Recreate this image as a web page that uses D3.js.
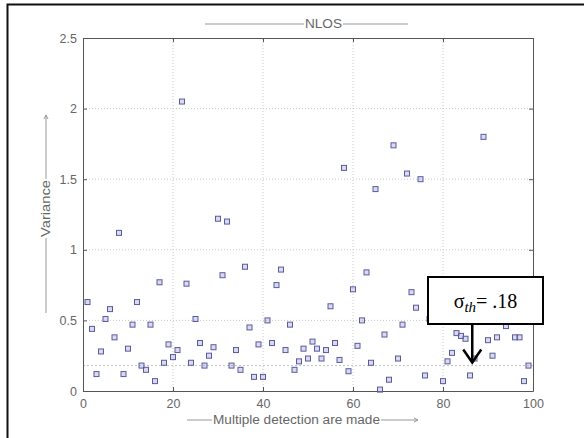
<!DOCTYPE html>
<html>
<head>
<meta charset="utf-8">
<script src="https://cdn.jsdelivr.net/npm/d3@7"></script>
<style>
  body { margin: 0; background: #fff; }
  svg { display: block; }
</style>
</head>
<body>
<svg width="584" height="438"></svg>
<script>
const detection = [1,2,3,4,5,6,7,8,9,10,11,12,13,14,15,16,17,18,19,20,
  21,22,23,24,25,26,27,28,29,30,31,32,33,34,35,36,37,38,39,40,
  41,42,43,44,45,46,47,48,49,50,51,52,53,54,55,56,57,58,59,60,
  61,62,63,64,65,66,67,68,69,70,71,72,73,74,75,76,77,80,
  81,82,83,84,85,86,87,89,90,91,92,94,96,97,98,99]
const variance = [0.63,0.44,0.12,0.28,0.51,0.58,0.38,1.12,0.12,0.30,0.47,0.63,0.18,0.15,0.47,0.07,0.77,0.20,0.33,0.24,
  0.29,2.05,0.76,0.20,0.51,0.34,0.18,0.25,0.31,1.22,0.82,1.20,0.18,0.29,0.15,0.88,0.45,0.10,0.33,0.10,
  0.50,0.34,0.75,0.86,0.29,0.47,0.15,0.21,0.30,0.23,0.35,0.30,0.23,0.29,0.60,0.34,0.22,1.58,0.14,0.72,
  0.32,0.50,0.84,0.20,1.43,0.01,0.40,0.08,1.74,0.23,0.47,1.54,0.70,0.59,1.50,0.11,0.51,0.07,
  0.21,0.27,0.41,0.39,0.37,0.11,0.23,1.80,0.36,0.25,0.38,0.46,0.38,0.38,0.07,0.18]
const xTicks = [0,20,40,60,80,100]
const yTicks = [0,0.5,1,1.5,2,2.5]
const threshold = 0.18
const title = "NLOS"
const xLabel = "Multiple detection are made"
const yLabel = "Variance"

const svg = d3.select("svg")
const W = 584, H = 438
const m = {l:83, r:51, t:38, b:47}

//scales
let x = d3.scaleLinear().domain([0,100]).range([m.l, W-m.r])
let y = d3.scaleLinear().domain([0,2.5]).range([H-m.b, m.t])
const font = "Liberation Sans, Arial, sans-serif"

//outer frame
svg.append("rect").attr("x",7.5).attr("y",4.5).attr("width",580).attr("height",440)
  .attr("fill","none").attr("stroke","#111").attr("stroke-width",2)

//grid 
let grid = svg.append("g").attr("stroke","#c8c8c8").attr("stroke-dasharray","1,2")
grid.selectAll(".gx").data(xTicks.slice(1,-1)).enter().append("line")
  .attr("x1",d=>x(d)).attr("x2",d=>x(d)).attr("y1",y(0)).attr("y2",y(2.5))
grid.selectAll(".gy").data(yTicks.slice(1,-1)).enter().append("line")
  .attr("y1",d=>y(d)).attr("y2",d=>y(d)).attr("x1",x(0)).attr("x2",x(100))
//threshold line
svg.append("line").attr("x1",x(0)).attr("x2",x(100)).attr("y1",y(threshold)).attr("y2",y(threshold))
  .attr("stroke","#c0c0c0").attr("stroke-dasharray","2,2")

//axes (ticks inward, box all round)
const axStyle = g => {
  g.select(".domain").attr("stroke","#555")
  g.selectAll(".tick line").attr("stroke","#555")
  g.selectAll("text").attr("fill","#666").attr("font-family",font).attr("font-size",12.5)
}
svg.append("g").attr("transform",`translate(0,${y(0)})`)
  .call(d3.axisBottom(x).tickValues(xTicks).tickSize(-4).tickPadding(8).tickSizeOuter(0))
  .call(axStyle)
svg.append("g").attr("transform",`translate(${x(0)},0)`)
  .call(d3.axisLeft(y).tickValues(yTicks).tickFormat(d3.format("")).tickSize(-4).tickPadding(6).tickSizeOuter(0))
  .call(axStyle)
svg.append("g").attr("transform",`translate(0,${y(2.5)})`)
  .call(d3.axisTop(x).tickValues(xTicks).tickSize(-4).tickFormat("").tickSizeOuter(0))
  .call(axStyle)
svg.append("g").attr("transform",`translate(${x(100)},0)`)
  .call(d3.axisRight(y).tickValues(yTicks).tickSize(-4).tickFormat("").tickSizeOuter(0))
  .call(axStyle)

//points 
let pts = detection.map((d,i)=>({x:d, v:variance[i]}))
svg.append("g").selectAll("rect").data(pts).enter().append("rect")
  .attr("x",d=>x(d.x)-2.5).attr("y",d=>y(d.v)-2.5).attr("width",5).attr("height",5)
  .attr("fill","rgba(150,150,210,0.35)").attr("stroke","#5a5aa0").attr("stroke-width",1)

//labels drawn as ----text----> (along the label direction: start, text start, text end, end)
const lineLabel = (cross, a, t0, t1, b, txt, vertical, arrow) => {
  let g = svg.append("g")
  if(vertical) g.attr("transform",`translate(${cross},0) rotate(-90)`)
  else g.attr("transform",`translate(0,${cross})`)
  let s = vertical ? -1 : 1
  g.append("text").attr("x",s*t0).attr("dy","0.35em")
    .attr("textLength",Math.abs(t1-t0)).attr("lengthAdjust","spacingAndGlyphs")
    .attr("font-family",font).attr("font-size",12).attr("fill","#666").text(txt)
  g.append("line").attr("x1",s*a).attr("x2",s*t0-1).attr("stroke","#999")
  g.append("line").attr("x1",s*t1+1).attr("x2",s*b).attr("stroke","#999")
  if(arrow) g.append("path").attr("d",`M${s*b-4},-2 L${s*b},0 L${s*b-4},2`).attr("fill","none").attr("stroke","#999")
}
lineLabel(24, 205, 305, 342, 408, title, false, false)
lineLabel(420, 187, 213, 380, 418, xLabel, false, true)
lineLabel(46, 313, 237, 180, 115, yLabel, true, true)

//annotation
let ax = x(86.5)
let box = {x:428, y:277, w:115, h:47}
svg.append("rect").attr("x",box.x).attr("y",box.y).attr("width",box.w).attr("height",box.h)
  .attr("fill","#fff").attr("stroke","#000").attr("stroke-width",2)
let at = svg.append("text").attr("x",box.x+box.w/2).attr("y",box.y+31).attr("text-anchor","middle")
  .attr("font-family","Liberation Serif, Times New Roman, serif").attr("font-size",20).attr("fill","#000")
at.append("tspan").text("σ")
at.append("tspan").attr("font-style","italic").attr("font-size",15).attr("dy",4).text("th")
at.append("tspan").attr("dy",-4).text("= .18")
svg.append("line").attr("x1",ax).attr("x2",ax).attr("y1",box.y+box.h).attr("y2",y(threshold)-3)
  .attr("stroke","#000").attr("stroke-width",2.5)
svg.append("path").attr("d",`M${ax-9},${y(threshold)-16} L${ax},${y(threshold)-3} L${ax+9},${y(threshold)-16}`)
  .attr("fill","none").attr("stroke","#000").attr("stroke-width",2.5)
</script>
</body>
</html>
